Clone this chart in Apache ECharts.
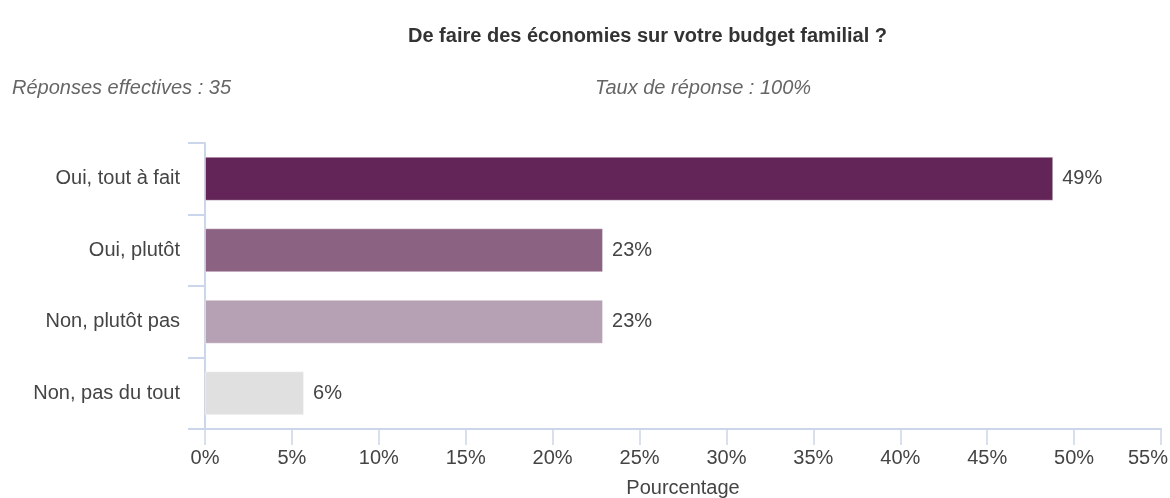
<!DOCTYPE html>
<html>
<head>
<meta charset="utf-8">
<script src="https://cdn.jsdelivr.net/npm/echarts@6/dist/echarts.min.js"></script>
<style>
html,body{margin:0;padding:0;background:#fff;}
#chart{width:1170px;height:498px;}
</style>
</head>
<body>
<div id="chart"></div>
<script>
const categories = ['Oui, tout à fait', 'Oui, plutôt', 'Non, plutôt pas', 'Non, pas du tout'];
const values = [48.8, 22.9, 22.9, 5.7];
const colors = ['#632457', '#8c6282', '#b6a0b3', '#e0e0e0'];
const xTicks = [0, 5, 10, 15, 20, 25, 30, 35, 40, 45, 50, 55];
const titleText = 'De faire des économies sur votre budget familial ?';
const leftNote = 'Réponses effectives : 35';
const rightNote = 'Taux de réponse : 100%';
const axisName = 'Pourcentage';

const font = '"Liberation Sans", Arial, sans-serif';
const axisColor = '#ccd6eb';
const textColor = '#444';
const fs = 20;

const xMax = xTicks[xTicks.length - 1];

const chart = echarts.init(document.getElementById('chart'), null, {renderer: 'canvas'});
chart.setOption({
  animation: false,
  textStyle: {fontFamily: font},
  title: [
    {text: titleText, left: 403, top: 21,
     textStyle: {fontFamily: font, fontSize: 20, fontWeight: 'bold', color: '#333'}},
    {text: leftNote, left: 7, top: 73,
     textStyle: {fontFamily: font, fontSize: fs, fontWeight: 'normal', fontStyle: 'italic', color: '#666'}},
    {text: rightNote, left: 590, top: 73,
     textStyle: {fontFamily: font, fontSize: fs, fontWeight: 'normal', fontStyle: 'italic', color: '#666'}}
  ],
  grid: {left: 205, right: 9, top: 143, bottom: 69, containLabel: false, outerBoundsMode: 'none'},
  xAxis: {
    type: 'value', min: xTicks[0], max: xMax, interval: 5,
    name: axisName, nameLocation: 'middle', nameGap: 49,
    nameTextStyle: {fontFamily: font, fontSize: fs, color: textColor},
    axisLine: {show: true, lineStyle: {color: axisColor, width: 2}},
    axisTick: {show: true, length: 16, lineStyle: {color: axisColor, width: 1.5}},
    axisLabel: {
      formatter: v => v === xMax ? '{m|' + v + '%}' : v + '%',
      margin: 19, fontSize: fs, color: textColor, fontFamily: font,
      rich: {m: {fontSize: fs, color: textColor, fontFamily: font, padding: [0, 26, 0, 0]}}
    },
    splitLine: {show: false}
  },
  yAxis: {
    type: 'category', data: categories, inverse: true,
    axisLine: {show: true, lineStyle: {color: axisColor, width: 2}},
    axisTick: {show: true, length: 17, lineStyle: {color: axisColor, width: 2}},
    axisLabel: {margin: 25, fontSize: fs, color: textColor, fontFamily: font},
    splitLine: {show: false}
  },
  series: [{
    type: 'bar',
    data: values.map((v, i) => ({value: v, itemStyle: {color: colors[i]}})),
    barWidth: 44,
    itemStyle: {borderColor: 'rgba(255,255,255,0.4)', borderWidth: 1},
    label: {
      show: true, position: 'right', distance: 9,
      formatter: p => Math.round(p.value) + '%',
      fontSize: fs, color: textColor, fontFamily: font
    }
  }]
});
</script>
</body>
</html>
